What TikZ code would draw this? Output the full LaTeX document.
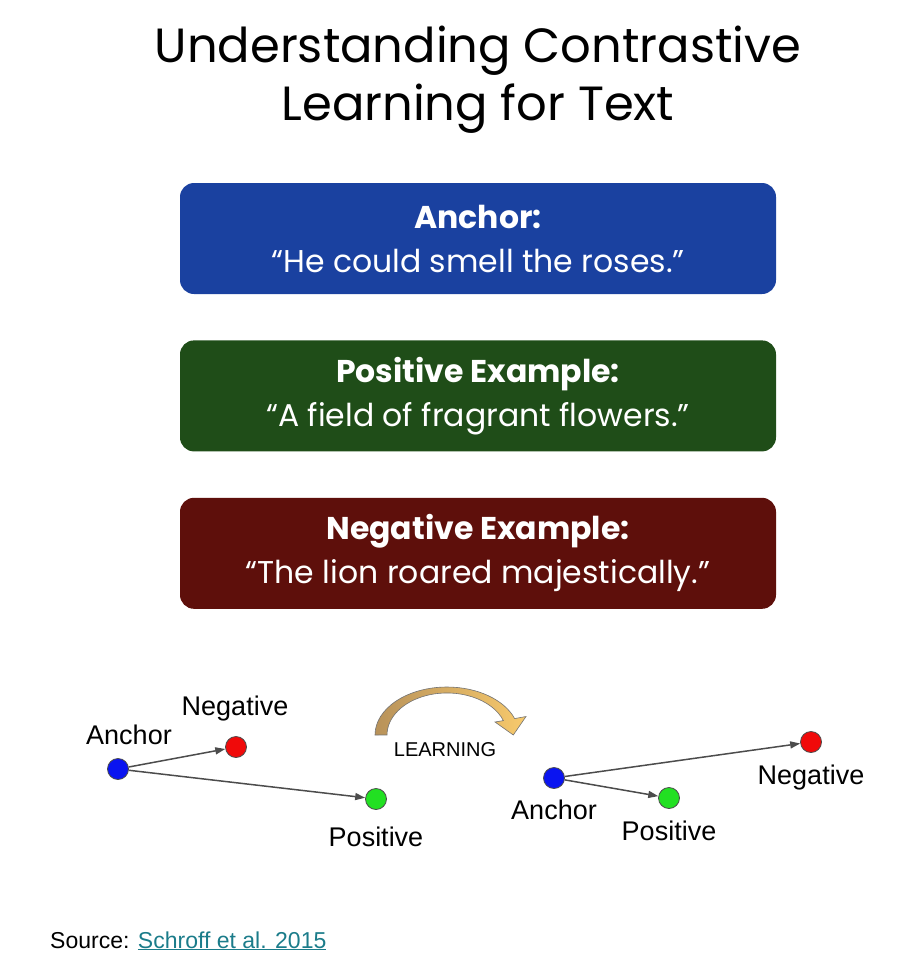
\documentclass[tikz,border=0pt]{standalone}
\usepackage{fontspec}
\setmainfont{Poppins}
\newfontfamily\arialfont{Liberation Sans}
\usepackage{xcolor}
\usetikzlibrary{arrows.meta,positioning}

\definecolor{anchorblue}{HTML}{1A41A0}
\definecolor{posgreen}{HTML}{1F4D18}
\definecolor{negred}{HTML}{5E0F0B}
\definecolor{dotblue}{HTML}{0A14F0}
\definecolor{dotred}{HTML}{F00A0A}
\definecolor{dotgreen}{HTML}{22E022}
\definecolor{linkteal}{HTML}{1B7C8A}
\definecolor{bendtan}{HTML}{B8925A}
\definecolor{bendgold}{HTML}{F8CA6C}

\begin{document}
\begin{tikzpicture}[
        x=1pt, y=-1pt,
        box/.style={
            rounded corners=14pt, text=white,
            minimum width=596pt, minimum height=111pt,
            align=center, inner sep=0pt,
            font=\fontsize{31.5}{44}\selectfont
        },
        dot/.style={circle, draw=black!70, line width=0.8pt,
            minimum size=21pt, inner sep=0pt},
        lbl/.style={anchor=base, font=\arialfont\fontsize{27}{30}\selectfont},
        arrow/.style={-{Triangle[length=10pt,width=7pt]}, line width=1.5pt, black!70},
        node distance=46pt
    ]
    \useasboundingbox (0,0) rectangle (901,959);

    % Title
    \node[align=center, font=\fontsize{48}{58}\selectfont] (title) at (478,80)
        {Understanding Contrastive\\Learning for Text};

    % Example boxes
    \node[box, fill=anchorblue] (anchor) at (478,238.5)
        {\textbf{Anchor:}\\``He could smell the roses.''};
    \node[box, fill=posgreen, below=of anchor] (positive)
        {\textbf{Positive Example:}\\``A field of fragrant flowers.''};
    \node[box, fill=negred, below=of positive] (negative)
        {\textbf{Negative Example:}\\``The lion roared majestically.''};

    % Before learning
    \node[dot, fill=dotblue] (a1) at (118,769) {};
    \node[dot, fill=dotred] (n1) at (236,747) {};
    \node[dot, fill=dotgreen] (p1) at (376,799) {};
    \node[lbl] (a1l) at (129,744) {Anchor};
    \node[lbl] (n1l) at (235,715) {Negative};
    \node[lbl] (p1l) at (376,846) {Positive};
    \draw[arrow] (a1) -- (n1);
    \draw[arrow] (a1) -- (p1);

    % Learning bend
    \shadedraw[left color=bendtan, right color=bendgold, draw=black!55, line width=0.6pt]
        (375,735) arc[start angle=180, end angle=340, x radius=72, y radius=48]
        -- (526,716.5) -- (513.3,735) -- (495,722) -- (503.4,720.6)
        arc[start angle=340, end angle=180, x radius=60, y radius=42]
        -- cycle;
    \node[lbl, font=\arialfont\fontsize{20}{24}\selectfont] (learn) at (445,756) {LEARNING};

    % After learning
    \node[dot, fill=dotblue] (a2) at (554,778) {};
    \node[dot, fill=dotgreen] (p2) at (669,798) {};
    \node[dot, fill=dotred] (n2) at (811,742) {};
    \node[lbl] (a2l) at (554,819) {Anchor};
    \node[lbl] (p2l) at (669,840) {Positive};
    \node[lbl] (n2l) at (811,784) {Negative};
    \draw[arrow] (a2) -- (n2);
    \draw[arrow] (a2) -- (p2);

    % Source
    \node[anchor=base west, inner sep=0pt, font=\arialfont\fontsize{23}{26}\selectfont] (src) at (50,948)
        {Source: \textcolor{linkteal}{\underline{Schroff et al. 2015}}};
\end{tikzpicture}
\end{document}
